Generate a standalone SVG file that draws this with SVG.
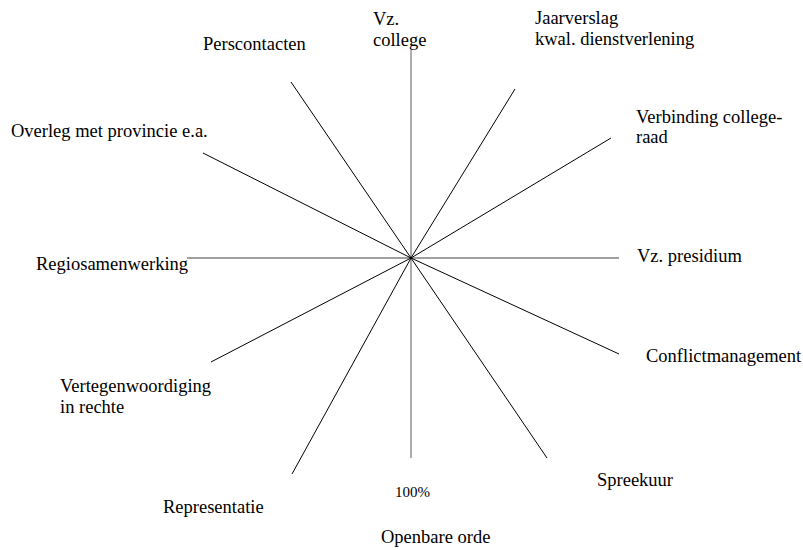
<svg xmlns="http://www.w3.org/2000/svg" width="803" height="550" viewBox="0 0 803 550">
<style>
.ax{stroke:#808080;stroke-width:1.3;fill:none}
.sp{stroke:#000;stroke-width:1;fill:none}
</style>
<rect width="803" height="550" fill="#fff"/>
<g id="connectors">
<line class="ax" x1="411" y1="50" x2="411" y2="458"/>
<line class="ax" x1="187" y1="258" x2="619" y2="258"/>
<line class="sp" x1="411" y1="258" x2="515" y2="89"/>
<line class="sp" x1="411" y1="258" x2="611" y2="138"/>
<line class="sp" x1="411" y1="258" x2="619" y2="354"/>
<line class="sp" x1="411" y1="258" x2="547" y2="458"/>
<line class="sp" x1="411" y1="258" x2="292" y2="474"/>
<line class="sp" x1="411" y1="258" x2="211" y2="362"/>
<line class="sp" x1="411" y1="258" x2="203" y2="153"/>
<line class="sp" x1="411" y1="258" x2="291" y2="82"/>
</g>
<g font-family="Liberation Serif, Times New Roman, serif" font-size="18.5" fill="#000">
<g id="vz-college"><text x="373" y="25">Vz.</text><text x="373" y="46">college</text></g>
<g id="jaarverslag"><text x="535" y="24">Jaarverslag</text><text x="535" y="45">kwal. dienstverlening</text></g>
<g id="verbinding"><text x="636" y="123">Verbinding college-</text><text x="636" y="143">raad</text></g>
<g id="vz-presidium"><text x="637" y="262">Vz. presidium</text></g>
<g id="conflictmanagement"><text x="646" y="362">Conflictmanagement</text></g>
<g id="spreekuur"><text x="597" y="486">Spreekuur</text></g>
<g id="openbare-orde"><text font-size="15" x="395" y="497">100%</text><text x="381" y="543">Openbare orde</text></g>
<g id="representatie"><text x="163" y="513">Representatie</text></g>
<g id="vertegenwoordiging"><text x="60" y="392">Vertegenwoordiging</text><text x="60" y="413">in rechte</text></g>
<g id="regiosamenwerking"><text x="36" y="270">Regiosamenwerking</text></g>
<g id="overleg"><text x="11" y="137">Overleg met provincie e.a.</text></g>
<g id="perscontacten"><text x="203" y="50">Perscontacten</text></g>
</g>
</svg>
